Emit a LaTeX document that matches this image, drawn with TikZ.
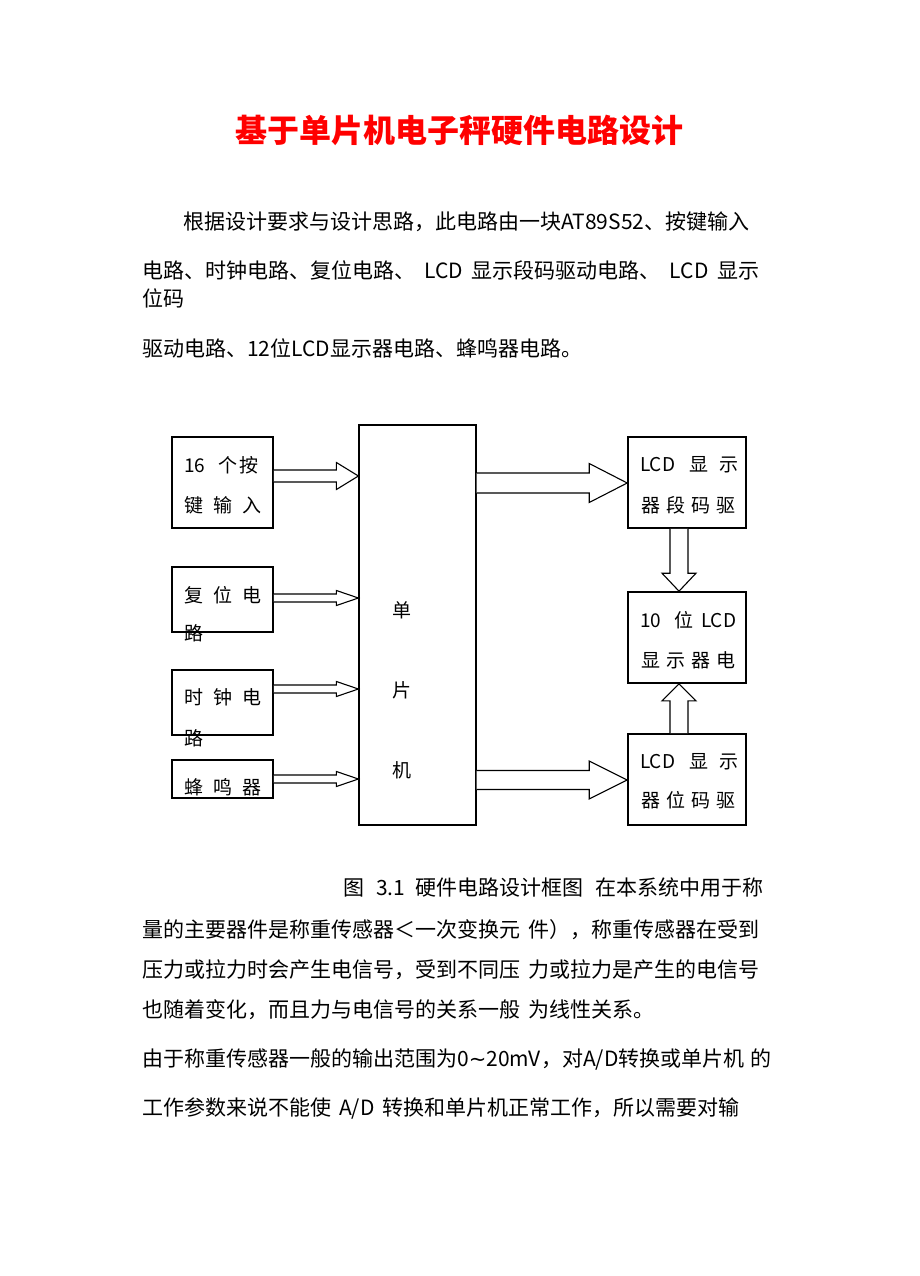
\documentclass[tikz,border=0pt]{standalone}
\usepackage{fontspec}
\setmainfont{Noto Sans CJK SC}
\newfontfamily\dv{DejaVu Sans}
\usetikzlibrary{calc}
\newcommand\chs[2]{\makebox[#1][l]{#2}}
\newcommand\rarr[6]{\draw[hollow] let \p1=(#1.east), \p2=(#2.west) in
 (\x1,{-(#3-#4)*1pt}) -- ({\x2-#6*1pt},{-(#3-#4)*1pt}) -- ({\x2-#6*1pt},{-(#3-#5)*1pt}) -- (\x2,{-#3*1pt}) -- ({\x2-#6*1pt},{-(#3+#5)*1pt}) -- ({\x2-#6*1pt},{-(#3+#4)*1pt}) -- (\x1,{-(#3+#4)*1pt});}
\newcommand\darr[6]{\draw[hollow] let \p1=(#1.south), \p2=(#2.north) in
 ({(#3-#4)*1pt},\y1) -- ({(#3-#4)*1pt},{\y2+#6*1pt}) -- ({(#3-#5)*1pt},{\y2+#6*1pt}) -- ({#3*1pt},\y2) -- ({(#3+#5)*1pt},{\y2+#6*1pt}) -- ({(#3+#4)*1pt},{\y2+#6*1pt}) -- ({(#3+#4)*1pt},\y1);}
\newcommand\uarr[6]{\draw[hollow] let \p1=(#1.north), \p2=(#2.south) in
 ({(#3-#4)*1pt},\y1) -- ({(#3-#4)*1pt},{\y2-#6*1pt}) -- ({(#3-#5)*1pt},{\y2-#6*1pt}) -- ({#3*1pt},\y2) -- ({(#3+#5)*1pt},{\y2-#6*1pt}) -- ({(#3+#4)*1pt},{\y2-#6*1pt}) -- ({(#3+#4)*1pt},\y1);}
\begin{document}
\begin{tikzpicture}[x=1pt,y=-1pt,
  lbox/.style={draw, line width=1.6pt, minimum width=101pt, inner sep=0pt},
  rbox/.style={draw, line width=1.6pt, minimum width=118pt, minimum height=91pt, inner sep=0pt},
  cbox/.style={draw, line width=1.2pt, minimum width=117pt, minimum height=400pt, inner sep=0pt},
  body/.style={anchor=west, inner sep=0pt, font=\fontsize{21}{21}\selectfont},
  lbl/.style={anchor=west, inner sep=0pt, font=\fontsize{19}{19}\selectfont},
  hollow/.style={draw, line width=1.1pt, fill=white, line join=miter}]
\fill[white] (0,0) rectangle (920,1276);
\useasboundingbox (0,0) rectangle (920,1276);

% title
\node[font=\fontsize{32}{32}\selectfont\bfseries, text=red, inner sep=0pt] (title) at (459,130) {基于单片机电子秤硬件电路设计};

% intro paragraph
\node[body] (p1) at (183,222) {根据设计要求与设计思路，此电路由一块AT89S52、按键输入};
\node[body] (p2) at (142,270) {电路、时钟电路、复位电路、\hspace{9pt}LCD\hspace{9pt}显示段码驱动电路、\hspace{9pt}LCD\hspace{9pt}显示};
\node[body] (p3) at (142,298) {位码};
\node[body] (p4) at (142,348) {驱动电路、12位LCD显示器电路、蜂鸣器电路。};

% boxes
\node[lbox, minimum height=91pt] (key) at (222.5,482.5) {};
\node[lbox, minimum height=65pt] (rst) at (222.5,599.5) {};
\node[lbox, minimum height=65pt] (clk) at (222.5,702.5) {};
\node[lbox, minimum height=38pt] (bz) at (222.5,779) {};
\node[cbox] (mcu) at (417.5,625) {};
\node[rbox] (seg) at (687,482.5) {};
\node[rbox] (lcd) at (687,637.5) {};
\node[rbox] (bit) at (687,779.5) {};

% box labels
\node[lbl] (key1) at (184,465) {\chs{34pt}{16}\chs{21pt}{个}按};
\node[lbl] (key2) at (184,505) {\chs{29pt}{键}\chs{29pt}{输}入};
\node[lbl] (rst1) at (184,595) {\chs{29pt}{复}\chs{29pt}{位}电};
\node[lbl] (rst2) at (184,633) {路};
\node[lbl] (clk1) at (184,697) {\chs{29pt}{时}\chs{29pt}{钟}电};
\node[lbl] (clk2) at (184,738) {路};
\node[lbl] (bz1) at (184,787) {\chs{29pt}{蜂}\chs{29pt}{鸣}器};
\node[lbl] (mcu1) at (392,610) {单};
\node[lbl] (mcu2) at (392,690) {片};
\node[lbl] (mcu3) at (392,770) {机};
\node[lbl] (seg1) at (640,465) {\chs{49pt}{LCD}\chs{30pt}{显}示};
\node[lbl] (seg2) at (641,505) {\chs{25pt}{器}\chs{25pt}{段}\chs{25pt}{码}驱};
\node[lbl] (lcd1) at (640,620) {\chs{34pt}{10}\chs{27pt}{位}LCD};
\node[lbl] (lcd2) at (641,660) {\chs{25pt}{显}\chs{25pt}{示}\chs{25pt}{器}电};
\node[lbl] (bit1) at (640,762) {\chs{49pt}{LCD}\chs{30pt}{显}示};
\node[lbl] (bit2) at (641,800) {\chs{25pt}{器}\chs{25pt}{位}\chs{25pt}{码}驱};

% arrows
\rarr{key}{mcu}{476}{6}{13.5}{22}
\rarr{rst}{mcu}{598}{4}{7.5}{22}
\rarr{clk}{mcu}{689}{4}{7.5}{22}
\rarr{bz}{mcu}{779}{4}{7.5}{22}
\rarr{mcu}{seg}{483}{10}{19.5}{38}
\rarr{mcu}{bit}{780}{9.5}{19}{38}
\darr{seg}{lcd}{679}{9}{17}{18}
\uarr{bit}{lcd}{679}{9}{17}{17}

% caption and following text
\node[body] (c1) at (343,888) {图\hspace{12pt}3.1\hspace{10pt}硬件电路设计框图\hspace{12pt}在本系统中用于称};
\node[body] (c2) at (142,930) {量的主要器件是称重传感器＜一次变换元\hspace{8pt}件），称重传感器在受到};
\node[body] (c3) at (142,970) {压力或拉力时会产生电信号，受到不同压\hspace{8pt}力或拉力是产生的电信号};
\node[body] (c4) at (142,1010) {也随着变化，而且力与电信号的关系一般\hspace{8pt}为线性关系。};
\node[body] (c5) at (142,1060) {由于称重传感器一般的输出范围为0{\dv ∼}20mV，对A/D转换或单片机\hspace{6pt}的};
\node[body] (c6) at (142,1108) {工作参数来说不能使\hspace{8pt}A/D\hspace{8pt}转换和单片机正常工作，所以需要对输};
\end{tikzpicture}
\end{document}
